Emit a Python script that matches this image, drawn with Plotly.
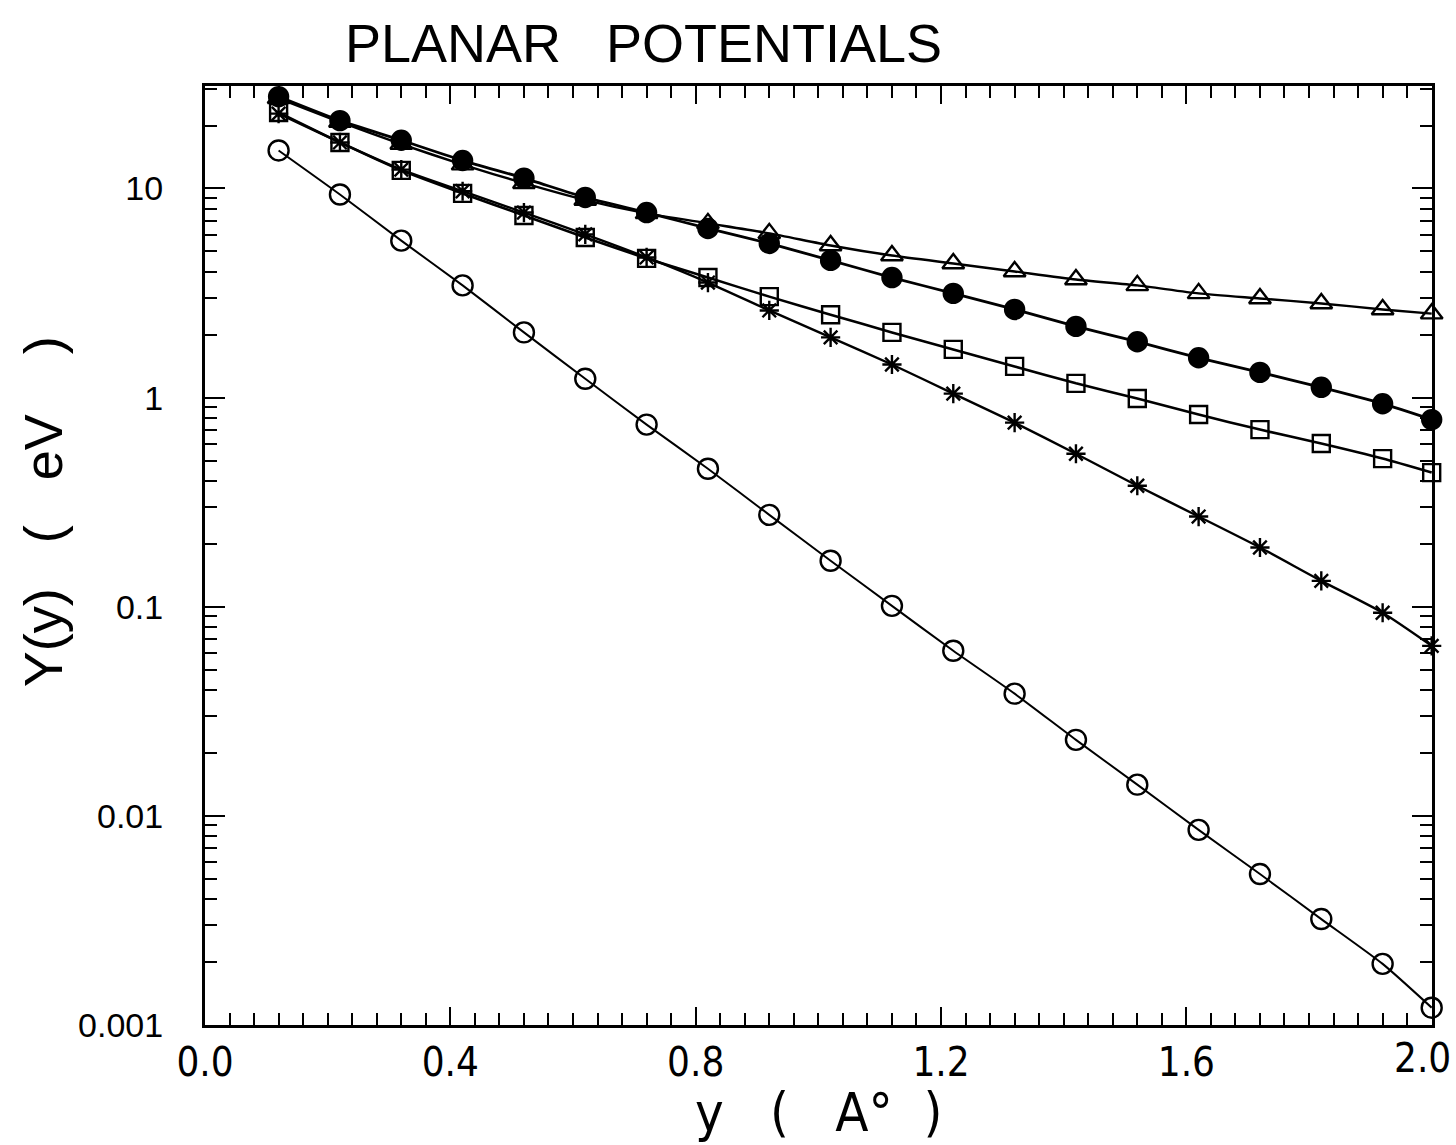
import plotly.graph_objects as go

x_vals = [0.12, 0.22, 0.32, 0.42, 0.52, 0.62, 0.72, 0.82, 0.92, 1.02,
          1.12, 1.22, 1.32, 1.42, 1.52, 1.62, 1.72, 1.82, 1.92, 2.0]

open_circles = [15.2, 9.36, 5.63, 3.44, 2.05, 1.23, 0.743, 0.457, 0.275, 0.166,
                0.101, 0.0616, 0.0384, 0.0231, 0.0141, 0.00857, 0.00527, 0.00321, 0.00196, 0.00121]
filled_circles = [27.5, 21.1, 17.0, 13.6, 11.2, 9.06, 7.67, 6.44, 5.46, 4.53,
                  3.75, 3.15, 2.64, 2.19, 1.85, 1.55, 1.32, 1.12, 0.935, 0.785]
triangles = [27.0, 20.8, 16.3, 13.0, 10.6, 8.8, 7.6, 6.81, 6.10, 5.34,
             4.78, 4.38, 4.01, 3.67, 3.44, 3.15, 2.98, 2.82, 2.64, 2.52]
squares = [23.1, 16.6, 12.2, 9.47, 7.43, 5.83, 4.63, 3.75, 3.04, 2.49,
           2.05, 1.70, 1.41, 1.17, 0.99, 0.83, 0.703, 0.603, 0.511, 0.438]
stars = [22.8, 16.6, 12.3, 9.7, 7.67, 6.03, 4.68, 3.55, 2.61, 1.94,
         1.44, 1.045, 0.759, 0.539, 0.379, 0.270, 0.192, 0.133, 0.0936, 0.0650]

y_tickvals = [0.001, 0.01, 0.1, 1, 10]
y_ticktext = ["0.001", "0.01", "0.1", "1", "10"]
x_tickvals = [0.0, 0.4, 0.8, 1.2, 1.6, 2.0]
x_ticktext = ["0.0", "0.4", "0.8", "1.2", "1.6", "2.0"]

y_minor = [k * 10 ** e for e in range(-3, 2) for k in range(2, 10)]

series = [
    (triangles, "triangle-up-open", 19, 2.4),
    (filled_circles, "circle", 19, 2.8),
    (squares, "square-open", 17, 2.6),
    (stars, "asterisk-open", 16, 2.4),
    (open_circles, "circle-open", 20, 2.0),
]

fig = go.Figure()
for ys, sym, sz, lw in series:
    fig.add_trace(go.Scatter(
        x=x_vals, y=ys, mode="lines+markers",
        line=dict(color="black", width=lw, shape="spline", smoothing=0.6),
        marker=dict(symbol=sym, size=sz, color="black",
                    line=dict(color="black", width=2.4)),
        cliponaxis=False, showlegend=False,
    ))

nb = "\u00a0"
narrow = "Liberation Sans Narrow, DejaVu Sans Condensed, sans-serif"
regular = "Liberation Sans, Arial, sans-serif"

# last x tick label is drawn as an annotation so it stays inside the page edge
shown_xtext = x_ticktext[:-1] + [""]

fig.update_layout(
    width=1456, height=1145,
    margin=dict(l=205, r=24, t=86, b=120, autoexpand=False),
    paper_bgcolor="white", plot_bgcolor="white",
    title=dict(text="PLANAR" + nb * 3 + "POTENTIALS", x=0.442, xanchor="center",
               y=0.962, yanchor="middle",
               font=dict(family=regular, size=54, color="black")),
    annotations=[
        dict(text="y" + nb * 3 + "(" + nb * 3 + "A°" + nb * 2 + ")",
             xref="paper", yref="paper", x=0.50, y=-0.093,
             xanchor="center", yanchor="middle", showarrow=False,
             font=dict(family=narrow, size=54, color="black")),
        dict(text="Y(y)" + nb * 3 + "(" + nb * 3 + "eV" + nb * 4 + ")",
             xref="paper", yref="paper", x=-0.132, y=0.546,
             xanchor="center", yanchor="middle", showarrow=False, textangle=-90,
             font=dict(family=regular, size=54, color="black")),
        dict(text=x_ticktext[-1], xref="paper", yref="paper",
             x=1.0175, y=-0.0355, xanchor="right", yanchor="middle",
             showarrow=False,
             font=dict(family=narrow, size=40, color="black")),
    ],
)

fig.update_xaxes(
    range=[0, 2.0005], showgrid=False, zeroline=False, automargin=False,
    showline=True, linecolor="black", linewidth=3, mirror="allticks",
    ticks="inside", ticklen=18, tickwidth=2, tickcolor="black",
    tickvals=x_tickvals, ticktext=shown_xtext,
    tickfont=dict(family=narrow, size=40, color="black"),
    minor=dict(dtick=0.04, tick0=0, ticks="inside", ticklen=12, tickwidth=2, tickcolor="black"),
)

fig.update_yaxes(
    type="log", range=[-3, 1.49], showgrid=False, zeroline=False, automargin=False,
    showline=True, linecolor="black", linewidth=3, mirror="allticks",
    ticks="inside", ticklen=20, tickwidth=2, tickcolor="black",
    tickvals=y_tickvals, ticktext=y_ticktext, ticklabelstandoff=32,
    tickfont=dict(family=regular, size=34, color="black"),
    minor=dict(tickvals=y_minor, ticks="inside", ticklen=12, tickwidth=2, tickcolor="black"),
)

fig.write_html("out.html")
